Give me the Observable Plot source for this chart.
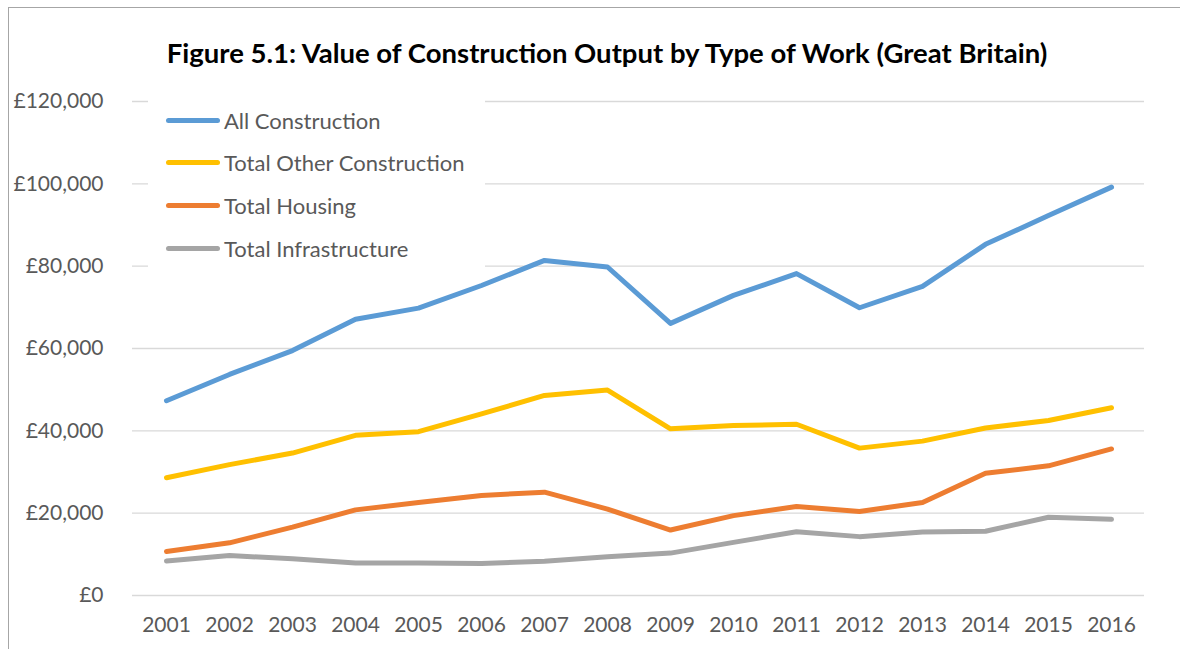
<!DOCTYPE html>
<html>
<head>
<meta charset="utf-8">
<script src="https://cdn.jsdelivr.net/npm/d3@7"></script>
<script src="https://cdn.jsdelivr.net/npm/@observablehq/plot@0.6"></script>
<style>
  html, body { margin: 0; padding: 0; background: #fff; }
  #wrap { position: relative; width: 1180px; height: 649px; overflow: hidden; font-family: Lato, "Open Sans", sans-serif; }
  #frame { position: absolute; left: 8px; top: 7px; width: 1300px; height: 700px; border-left: 1px solid #a6a6a6; border-top: 1px solid #a6a6a6; }
  #title { position: absolute; left: 107px; width: 1000px; top: 36px; text-align: center; font-weight: 700; font-size: 27.5px; color: #000; white-space: nowrap; }
  #chart { position: absolute; left: 0; top: 0; }
  #legend { position: absolute; left: 148px; top: 96px; width: 337px; height: 172px; background: #fff; }
  .item { position: absolute; left: 18px; height: 24px; display: flex; align-items: center; font-size: 22px; color: #595959; white-space: nowrap; }
  .sw { width: 54px; height: 5px; border-radius: 3px; margin-right: 4px; }
</style>
</head>
<body>
<div id="wrap">
  <div id="frame"></div>
  <div id="chart"></div>
  <div id="title">Figure 5.1: Value of Construction Output by Type of Work (Great Britain)</div>
  <div id="legend"></div>
</div>
<script>
const years = ["2001","2002","2003","2004","2005","2006","2007","2008","2009","2010","2011","2012","2013","2014","2015","2016"];
const seriesNames = ["All Construction", "Total Other Construction", "Total Housing", "Total Infrastructure"];
const seriesColors = ["#5b9bd5", "#ffc000", "#ed7d31", "#a5a5a5"];
const allConstruction = [47300, 53700, 59500, 67100, 69800, 75300, 81400, 79800, 66100, 72900, 78200, 69900, 75100, 85300, 92300, 99200];
const totalOther = [28600, 31800, 34600, 38900, 39800, 44100, 48600, 49900, 40500, 41300, 41600, 35800, 37500, 40700, 42500, 45600];
const totalHousing = [10700, 12800, 16600, 20800, 22600, 24300, 25100, 21000, 15900, 19400, 21600, 20400, 22600, 29700, 31500, 35600];
const totalInfrastructure = [8400, 9700, 8900, 7900, 7900, 7800, 8300, 9400, 10300, 12900, 15500, 14300, 15400, 15600, 19000, 18500];
const yTicks = [0, 20000, 40000, 60000, 80000, 100000, 120000];

const seriesValues = [allConstruction, totalOther, totalHousing, totalInfrastructure];
const data = seriesNames.flatMap((name, i) =>
  years.map((yr, j) => ({ series: name, year: yr, value: seriesValues[i][j] })));

const fmt = d => "£" + d3.format(",")(d);

const chart = Plot.plot({
  width: 1180,
  height: 649,
  marginLeft: 132,
  marginRight: 36,
  marginTop: 101,
  marginBottom: 54,
  style: { fontFamily: "Lato, 'Open Sans', sans-serif", color: "#595959", background: "transparent" },
  x: { type: "point", domain: years, padding: 0.5, label: null },
  y: { domain: [0, 120000], label: null },
  color: { domain: seriesNames, range: seriesColors },
  marks: [
    Plot.gridY(yTicks, { stroke: "#d9d9d9", strokeOpacity: 1, strokeWidth: 1.4 }),
    Plot.axisY(yTicks, { tickSize: 0, tickPadding: 29, fontSize: 21, tickFormat: fmt, label: null }),
    Plot.axisX({ tickSize: 0, tickPadding: 22, fontSize: 21, label: null }),
    Plot.line(data, { x: "year", y: "value", z: "series", stroke: "series", strokeWidth: 5, strokeLinejoin: "round", strokeLinecap: "round" })
  ]
});
document.getElementById("chart").appendChild(chart);

const legend = document.getElementById("legend");
seriesNames.forEach((name, i) => {
  const it = document.createElement("div");
  it.className = "item";
  it.style.top = (12 + i * 42.7) + "px";
  const sw = document.createElement("div");
  sw.className = "sw";
  sw.style.background = seriesColors[i];
  const tx = document.createElement("span");
  tx.textContent = name;
  it.appendChild(sw);
  it.appendChild(tx);
  legend.appendChild(it);
});
</script>
</body>
</html>
